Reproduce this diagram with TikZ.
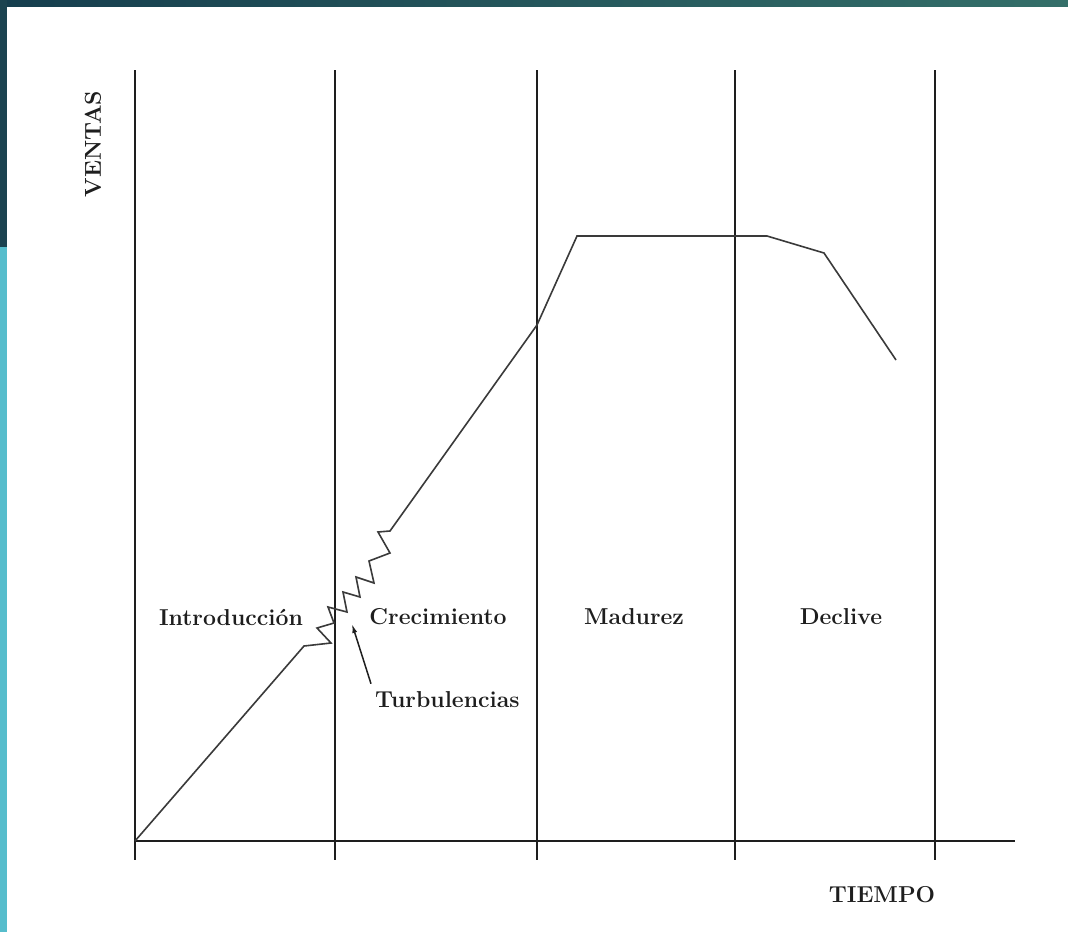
\documentclass[tikz,border=0pt]{standalone}
\usetikzlibrary{arrows.meta}
\definecolor{bandL}{HTML}{163E4E}
\definecolor{bandR}{HTML}{346F69}
\definecolor{barDark}{HTML}{1B4350}
\definecolor{barTeal}{HTML}{56BDCC}
\definecolor{ink}{HTML}{1E1E1E}
\definecolor{curveink}{HTML}{3A3A3A}
\tikzset{
  gridline/.style={draw=ink, line width=1.8pt},
  curveline/.style={draw=curveink, line width=1.6pt, line join=miter},
  lbl/.style={font=\fontsize{23}{27}\selectfont\bfseries, text=ink, inner sep=0pt},
}
\begin{document}
\begin{tikzpicture}[x=1pt,y=-1pt]
\useasboundingbox (0,0) rectangle (1068,932);
\fill[white] (0,0) rectangle (1068,932);
% frame decoration
\shade[left color=bandL, right color=bandR] (0,0) rectangle (1068,6);
\fill[barDark] (0,0) rectangle (7,247);
\fill[barTeal] (0,247) rectangle (7,932);
% vertical stage lines
\foreach \xx in {135,335,537,735,935} {
  \draw[gridline] (\xx,70) -- (\xx,860);
}
% time axis
\draw[gridline] (135,841) -- (1015,841);
% sales curve
\draw[curveline] (135,841) -- (304,646) -- (331,643) -- (317,628) -- (334,623)
  -- (328,607) -- (347,612) -- (343,592) -- (360,597) -- (356,577)
  -- (374,583) -- (369,561) -- (390,553) -- (378,532) -- (390,531)
  -- (537,325) -- (577,236) -- (767,236) -- (824,253) -- (896,360);
% labels
\node[lbl, rotate=90] (ventas) at (93,144) {VENTAS};
\node[lbl] (tiempo) at (882,895) {TIEMPO};
\node[lbl] (intro) at (231,617) {Introducción};
\node[lbl] (crec) at (438,617) {Crecimiento};
\node[lbl] (mad) at (634,617) {Madurez};
\node[lbl] (decl) at (841,617) {Declive};
\node[lbl, anchor=west] (turb) at (375,700) {Turbulencias};
\coordinate (tip) at (352,624);
\draw[draw=ink, line width=1.5pt, -{Latex[length=9pt,width=5pt]}] (turb.north west) ++(-4,-8) -- (tip);
\end{tikzpicture}
\end{document}
